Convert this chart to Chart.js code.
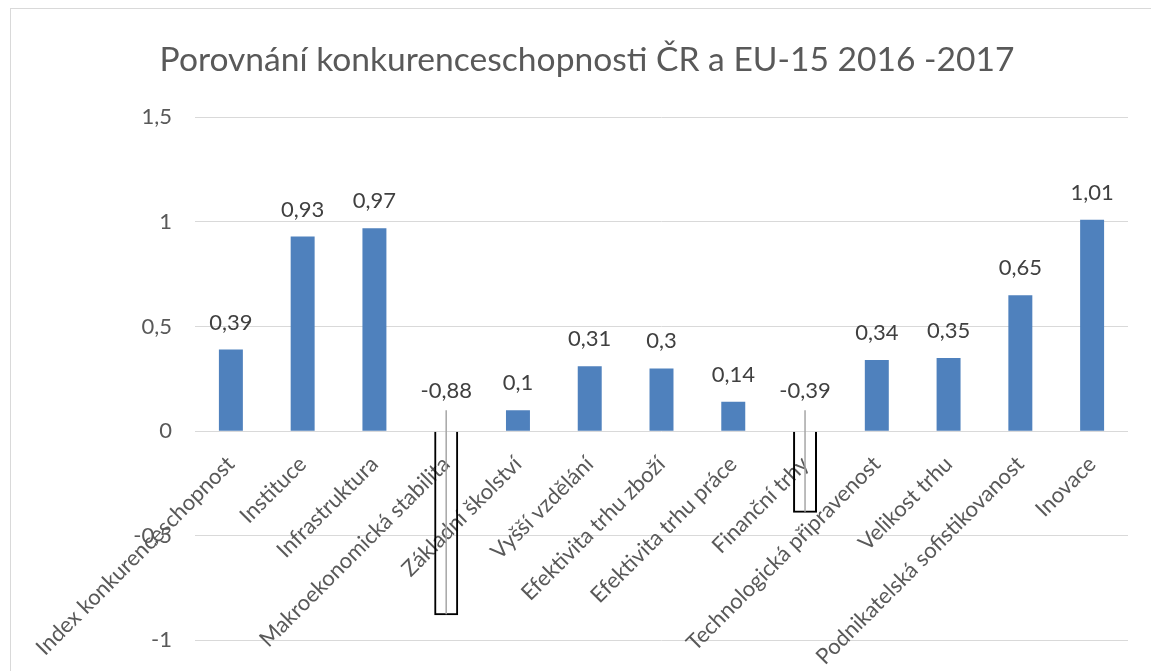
<!DOCTYPE html>
<html>
<head>
<meta charset="utf-8">
<script src="https://cdn.jsdelivr.net/npm/chart.js@4"></script>
<style>
  html, body { margin: 0; padding: 0; background: #fff; overflow: hidden; }
  #frame { position: absolute; left: 10px; top: 8px; border: 1px solid #d9d9d9; }
  canvas { display: block; }
</style>
</head>
<body>
<div id="frame"><canvas id="myChart" width="1152" height="780"></canvas></div>
<script>
const categories = [
    'Index konkurenceschopnost', 'Instituce', 'Infrastruktura', 'Makroekonomická stabilita',
    'Základní školství', 'Vyšší vzdělání', 'Efektivita trhu zboží', 'Efektivita trhu práce',
    'Finanční trhy', 'Technologická připravenost', 'Velikost trhu',
    'Podnikatelská sofistikovanost', 'Inovace'
];
const values = [0.39, 0.93, 0.97, -0.88, 0.1, 0.31, 0.3, 0.14, -0.39, 0.34, 0.35, 0.65, 1.01];
const yTicks = [-1.5, -1, -0.5, 0, 0.5, 1, 1.5];

const FONT = 'Lato';
const fmt = v => String(v).replace('.', ',');

// value labels above bars, negative ones sit above zero with a leader line
const valueLabels = {
    id: 'valueLabels',
    afterDatasetsDraw(chart) {
        const ctx = chart.ctx;
        const zero = chart.scales.y.getPixelForValue(0);
        const bars = chart.getDatasetMeta(0).data;
        ctx.save();
        ctx.font = '22px ' + FONT;
        ctx.fillStyle = '#404040';
        ctx.textAlign = 'center';
        ctx.textBaseline = 'middle';
        bars.forEach((bar, i) => {
            const v = values[i];
            if (v >= 0) {
                ctx.fillText(fmt(v), bar.x, bar.y - 27);
            } else {
                ctx.fillText(fmt(v), bar.x, zero - 40);
                ctx.strokeStyle = '#a6a6a6';
                ctx.lineWidth = 1.5;
                ctx.beginPath();
                ctx.moveTo(bar.x, zero - 21);
                ctx.lineTo(bar.x, bar.y - 1);
                ctx.stroke();
            }
        });
        ctx.restore();
    }
};

const ctx = document.getElementById('myChart').getContext('2d');
const chart = new Chart(ctx, {
    type: 'bar',
    data: {
        labels: categories,
        datasets: [{
            data: values,
            backgroundColor: values.map(v => v < 0 ? 'rgba(255,255,255,0)' : '#4f81bd'),
            borderColor: values.map(v => v < 0 ? '#000000' : '#4f81bd'),
            borderWidth: values.map(v => v < 0 ? 2 : 0),
            categoryPercentage: 1,
            barPercentage: 0.334
        }]
    },
    options: {
        responsive: false,
        animation: false,
        layout: { padding: { left: 0, right: 0, top: 0, bottom: 44 } },
        plugins: {
            legend: { display: false },
            tooltip: { enabled: false },
            title: {
                display: true,
                text: 'Porovnání konkurenceschopnosti ČR a EU-15 2016 -2017',
                color: '#595959',
                font: { family: FONT, size: 33.6, weight: 'normal' },
                padding: { top: 31, bottom: 37 }
            }
        },
        scales: {
            x: {
                position: { y: 0 },
                grid: { display: false, drawTicks: false },
                border: { display: false },
                ticks: {
                    color: '#595959',
                    font: { family: FONT, size: 22 },
                    minRotation: 45,
                    maxRotation: 45,
                    padding: 20,
                    autoSkip: false
                },
                afterFit(scale) {
                    scale.height = 0;
                    scale.paddingLeft = 0;
                    scale.paddingRight = 35;
                    scale.paddingTop = 0;
                    scale.paddingBottom = 0;
                }
            },
            y: {
                min: -1.5,
                max: 1.5,
                grid: { color: '#d9d9d9', lineWidth: 1, drawTicks: false },
                border: { display: false },
                afterBuildTicks(scale) {
                    scale.ticks = yTicks.map(v => ({ value: v }));
                },
                ticks: {
                    color: '#595959',
                    font: { family: FONT, size: 22 },
                    padding: 23,
                    callback: v => fmt(v)
                },
                afterFit(scale) {
                    scale.width = 184;
                }
            }
        }
    },
    plugins: [valueLabels]
});
</script>
</body>
</html>
